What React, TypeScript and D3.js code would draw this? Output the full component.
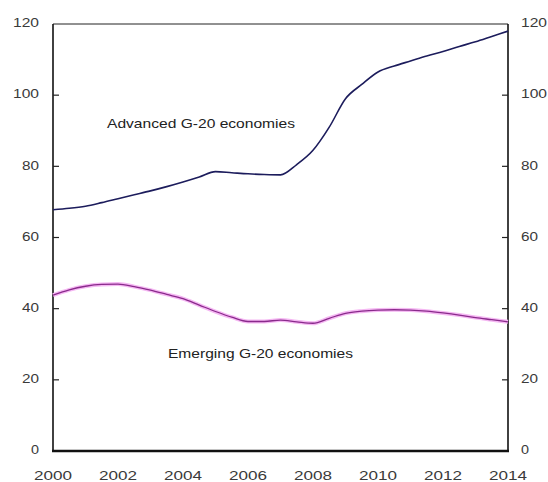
import React from "react";
import * as d3 from "d3";

const years = [2000, 2000.5, 2001, 2001.5, 2002, 2002.5, 2003, 2003.5, 2004, 2004.5, 2005, 2005.5, 2006, 2006.5, 2007, 2007.5, 2008, 2008.5, 2009, 2009.5, 2010, 2010.5, 2011, 2011.5, 2012, 2012.5, 2013, 2013.5, 2014];
const advanced = [67.8, 68.2, 68.8, 69.8, 70.9, 72.0, 73.1, 74.3, 75.6, 77.0, 78.5, 78.2, 77.9, 77.7, 77.6, 80.5, 84.5, 91.0, 99.0, 103.0, 106.5, 108.2, 109.6, 111.0, 112.3, 113.7, 115.0, 116.5, 118.0];
const emerging = [43.8, 45.3, 46.3, 46.8, 46.9, 46.2, 45.2, 44.0, 42.8, 41.0, 39.2, 37.6, 36.4, 36.4, 36.8, 36.3, 35.9, 37.3, 38.7, 39.3, 39.6, 39.7, 39.6, 39.3, 38.8, 38.2, 37.5, 36.9, 36.3];
const xTicks = [2000, 2002, 2004, 2006, 2008, 2010, 2012, 2014];
const yTicks = [0, 20, 40, 60, 80, 100, 120];
const labelAdvanced = "Advanced G-20 economies";
const labelEmerging = "Emerging G-20 economies";

const W = 548, H = 482;
const L = 53, R = 508, T = 24, B = 451;
const font = "'Liberation Sans', Arial, sans-serif";
const digitW = 9;

export default function App() {
  const x = d3.scaleLinear().domain([2000, 2014]).range([L, R]);
  const y = d3.scaleLinear().domain([0, 120]).range([B, T]);
  const line = d3.line<number>().x((_, i) => x(years[i])).y((d) => y(d)).curve(d3.curveMonotoneX);
  const advPath = line(advanced) || "";
  const emPath = line(emerging) || "";
  return (
    <svg width={W} height={H} style={{ position: "absolute", left: 0, top: 0, background: "#fff" }}>
      {/* frame */}
      <line x1={L} x2={R} y1={T} y2={T} stroke="#222" strokeWidth={1} />
      <line x1={L} x2={L} y1={T} y2={B} stroke="#111" strokeWidth={1.6} />
      <line x1={R} x2={R} y1={T} y2={B} stroke="#111" strokeWidth={1.6} />
      <line x1={L - 1} x2={R + 1} y1={B} y2={B} stroke="#111" strokeWidth={2.6} />
      {/* y ticks */}
      {yTicks.map((t) => {
        const s = String(t);
        const tl = s.length * digitW - 1;
        return (
          <g key={t}>
            {t > 0 && t < 120 && <line x1={L} x2={L + 6} y1={y(t)} y2={y(t)} stroke="#222" strokeWidth={1.2} />}
            {t > 0 && t < 120 && <line x1={R - 6} x2={R} y1={y(t)} y2={y(t)} stroke="#222" strokeWidth={1.2} />}
            <text x={39 - tl} y={y(t)} textLength={tl} lengthAdjust="spacingAndGlyphs" dominantBaseline="middle" fontFamily={font} fontSize={12.5} fill="#3a3a3a">{s}</text>
            <text x={521} y={y(t)} textLength={tl} lengthAdjust="spacingAndGlyphs" dominantBaseline="middle" fontFamily={font} fontSize={12.5} fill="#3a3a3a">{s}</text>
          </g>
        );
      })}
      {xTicks.map((t) => {
        const tl = 38;
        return (
          <text key={t} x={x(t) - tl / 2} y={477} textLength={tl} lengthAdjust="spacingAndGlyphs" dominantBaseline="middle" fontFamily={font} fontSize={12.5} fill="#3a3a3a">{t}</text>
        );
      })}
      {/* lines */}
      <path d={emPath} fill="none" stroke="#f5b8f3" strokeWidth={4} />
      <path d={emPath} fill="none" stroke="#8a2a8c" strokeWidth={1.3} />
      <path d={advPath} fill="none" stroke="#1c1c5c" strokeWidth={1.6} />
      {/* labels */}
      <text x={107} y={125} textLength={188} lengthAdjust="spacingAndGlyphs" dominantBaseline="middle" fontFamily={font} fontSize={13} fill="#222">{labelAdvanced}</text>
      <text x={168} y={355} textLength={185} lengthAdjust="spacingAndGlyphs" dominantBaseline="middle" fontFamily={font} fontSize={13} fill="#222">{labelEmerging}</text>
    </svg>
  );
}
